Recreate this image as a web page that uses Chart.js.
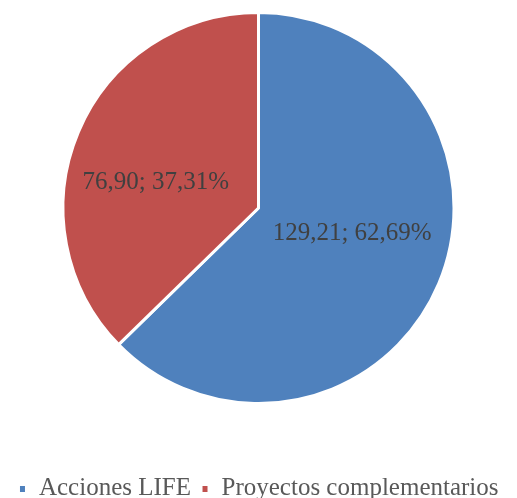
<!DOCTYPE html>
<html>
<head>
<meta charset="utf-8">
<script src="https://cdn.jsdelivr.net/npm/chart.js@4"></script>
<style>
  html, body { margin: 0; padding: 0; background: #fff; }
  #wrap { width: 517px; height: 498px; position: relative; }
</style>
</head>
<body>
<div id="wrap"><canvas id="chart-pie"></canvas></div>
<script>
// ── Datos ────────────────────────────────────────────────────────────────────
const CATEGORIAS = ['Acciones LIFE', 'Proyectos complementarios'];
const VALORES    = [129.21, 76.90];
const PORCENTAJES = ['62,69%', '37,31%'];
const ETIQUETAS  = ['129,21', '76,90'];
const COLORES    = ['#4F81BD', '#C0504D'];

const FUENTE = "'Liberation Serif', 'DejaVu Serif', serif";

// Etiquetas de datos dentro de cada sector
const etiquetasPie = {
  id: 'etiquetasPie',
  afterDatasetsDraw(chart) {
    const { ctx } = chart;
    const meta = chart.getDatasetMeta(0);
    ctx.save();
    ctx.font = `25px ${FUENTE}`;
    ctx.fillStyle = '#404040';
    ctx.textAlign = 'center';
    ctx.textBaseline = 'middle';
    meta.data.forEach((arc, i) => {
      const p = arc.getProps(['x', 'y', 'startAngle', 'endAngle', 'outerRadius'], true);
      const mid = (p.startAngle + p.endAngle) / 2;
      const k = i === 0 ? 0.52 : 0.57;
      const x = p.x + Math.cos(mid) * p.outerRadius * k;
      const y = p.y + Math.sin(mid) * p.outerRadius * 0.34;
      ctx.fillText(`${ETIQUETAS[i]}; ${PORCENTAJES[i]}`, x, y);
    });
    ctx.restore();
  }
};

// Altura fija de la leyenda (el hueco bajo la tarta)
const alturaLeyenda = {
  id: 'alturaLeyenda',
  beforeInit(chart) {
    const fit = chart.legend.fit;
    chart.legend.fit = function () {
      fit.bind(chart.legend)();
      this.height = 93;
    };
  }
};

new Chart(document.getElementById('chart-pie'), {
  type: 'pie',
  data: {
    labels: CATEGORIAS,
    datasets: [{
      data:            VALORES,
      backgroundColor: COLORES,
      borderColor:     '#ffffff',
      borderWidth:     3,
    }]
  },
  options: {
    responsive:          true,
    maintainAspectRatio: false,
    animation:           false,
    layout: { padding: { top: 11, bottom: 0, left: 0, right: 0 } },
    plugins: {
      tooltip: { enabled: false },
      legend: {
        position: 'bottom',
        title: { display: true, text: '', padding: { top: 47, bottom: 0 } },
        labels: {
          color:     '#595959',
          font:      { family: FUENTE, size: 25 },
          boxWidth:  8,
          boxHeight: 9,
          padding:   10,
        }
      }
    }
  },
  plugins: [etiquetasPie, alturaLeyenda]
});
</script>
</body>
</html>
